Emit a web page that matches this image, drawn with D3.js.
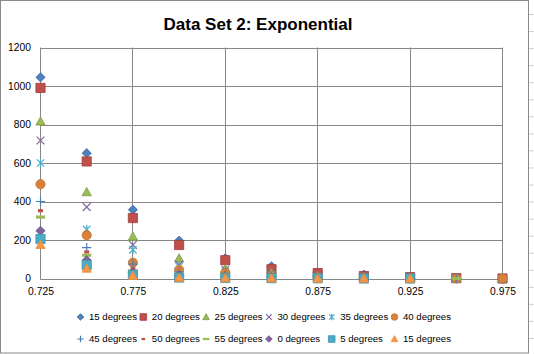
<!DOCTYPE html>
<html>
<head>
<meta charset="utf-8">
<script src="https://cdn.jsdelivr.net/npm/d3@7"></script>
<style>
  html, body { margin: 0; padding: 0; background: #fff; }
  svg { display: block; font-family: "Liberation Sans", Arial, sans-serif; }
</style>
</head>
<body>
<svg id="chart" width="534" height="354"></svg>
<script>
const TITLE = "Data Set 2: Exponential";
const X_VALUES = [0.725, 0.75, 0.775, 0.8, 0.825, 0.85, 0.875, 0.9, 0.925, 0.95, 0.975];
const X_TICKS = [0.725, 0.775, 0.825, 0.875, 0.925, 0.975];
const Y_TICKS = [0, 200, 400, 600, 800, 1000, 1200];
const SERIES_NAMES = ["15 degrees", "20 degrees", "25 degrees", "30 degrees", "35 degrees", "40 degrees",
                      "45 degrees", "50 degrees", "55 degrees", "0 degrees", "5 degrees", "15 degrees"];
const SERIES_VALUES = [
    [1045, 651, 357, 197, 105, 63, 32, 20, 8, 2, 0],
    [990, 608, 314, 174, 95, 48, 28, 13, 7, 2, 0],
    [816, 449, 218, 105, 50, 30, 15, 8, 4, 1, 0],
    [717, 371, 175, 72, 45, 22, 10, 5, 2, 1, 0],
    [600, 255, 149, 62, 35, 18, 8, 4, 2, 1, 0],
    [490, 225, 82, 45, 30, 14, 7, 3, 1, 0, 0],
    [400, 160, 75, 35, 20, 10, 5, 2, 1, 0],
    [352, 138, 50, 28, 15, 8, 4, 2, 1, 0],
    [319, 121, 40, 22, 12, 6, 3, 1, 0, 0],
    [248, 95, 30, 15, 8, 4, 2, 1, 0],
    [205, 70, 19, 5, 3, 2, 1, 0, 0],
    [175, 52, 14, 4, 2, 1, 0, 0, 0]
];

// excel style marker per series: shape, fill, stroke
const MARKERS = [
    {"shape": "diamond", "fill": "#4F81BD", "stroke": "#3F6A9E"},
    {"shape": "square", "fill": "#C0504D", "stroke": "#9E3E3B"},
    {"shape": "triangle", "fill": "#9BBB59", "stroke": "#7E9B45"},
    {"shape": "x", "fill": "none", "stroke": "#8064A2"},
    {"shape": "star", "fill": "none", "stroke": "#4BACC6"},
    {"shape": "circle", "fill": "#D9813A", "stroke": "#C4722F"},
    {"shape": "plus", "fill": "none", "stroke": "#4A7EBB"},
    {"shape": "dash", "fill": "#C0504D", "stroke": "none"},
    {"shape": "longdash", "fill": "#9BBB59", "stroke": "none"},
    {"shape": "diamond", "fill": "#8064A2", "stroke": "#6A5289"},
    {"shape": "square", "fill": "#4BACC6", "stroke": "#3E93AA"},
    {"shape": "triangle", "fill": "#F79646", "stroke": "#F08A38"}
];

var svg = d3.select("svg#chart");
const W = 534, H = 354;
const plot = {"left": 40.5, "right": 502.5, "top": 47.5, "bottom": 278.5};

var x = d3.scaleLinear().domain([0.725, 0.975]).range([plot.left, plot.right]);
var y = d3.scaleLinear().domain([0, 1200]).range([plot.bottom, plot.top]);

function markerPath(shape, s) {
    // s = half size
    switch (shape) {
        case "diamond": return `M0,${-s}L${s},0L0,${s}L${-s},0Z`;
        case "square": return `M${-s},${-s}H${s}V${s}H${-s}Z`;
        case "triangle": return `M0,${-s}L${s},${s * 0.8}L${-s},${s * 0.8}Z`;
        case "x": return `M${-s * 0.85},${-s * 0.85}L${s * 0.85},${s * 0.85}M${-s * 0.85},${s * 0.85}L${s * 0.85},${-s * 0.85}`;
        case "star": return `M${-s * 0.8},${-s * 0.8}L${s * 0.8},${s * 0.8}M${-s * 0.8},${s * 0.8}L${s * 0.8},${-s * 0.8}M0,${-s}V${s}`;
        case "circle": return d3.arc()({"innerRadius": 0, "outerRadius": s, "startAngle": 0, "endAngle": 2 * Math.PI});
        case "plus": return `M${-s},0H${s}M0,${-s}V${s}`;
        case "dash": return `M${-s * 0.55},${-s * 0.35}H${s * 0.55}V${s * 0.35}H${-s * 0.55}Z`;
        case "longdash": return `M${-s},${-s * 0.35}H${s}V${s * 0.35}H${-s}Z`;
    }
}

function drawMarker(g, m, s) {
    g.append("path")
        .attr("d", markerPath(m.shape, s))
        .attr("fill", m.fill)
        .attr("stroke", m.stroke)
        .attr("stroke-width", (m.fill == "none") ? 1.2 : 0.8);
}

// chart area + the sheet gridlines peeking in on the right
svg.append("rect")
    .attr("x", 0).attr("y", 0).attr("width", W).attr("height", H)
    .attr("fill", "#fff");
svg.append("g")
    .selectAll("line")
    .data(d3.range(14.5, H, 17.05))
    .join("line")
    .attr("x1", 529).attr("x2", W)
    .attr("y1", d => d).attr("y2", d => d)
    .attr("stroke", "#d0d0d0");
svg.append("rect")
    .attr("x", 0.5).attr("y", 0.5).attr("width", 528).attr("height", 352.5)
    .attr("fill", "#fff")
    .attr("stroke", "#8a8a8a");

// gridlines
var grid = svg.append("g").attr("stroke", "#878787").attr("stroke-width", 1);
grid.selectAll(".hgrid")
    .data(Y_TICKS)
    .join("line")
    .attr("class", "hgrid")
    .attr("x1", plot.left).attr("x2", plot.right)
    .attr("y1", d => Math.round(y(d)) + 0.5).attr("y2", d => Math.round(y(d)) + 0.5);
grid.selectAll(".vgrid")
    .data(X_TICKS)
    .join("line")
    .attr("class", "vgrid")
    .attr("x1", d => Math.round(x(d) - 0.5) + 0.5).attr("x2", d => Math.round(x(d) - 0.5) + 0.5)
    .attr("y1", plot.top).attr("y2", Math.round(y(0)) + 0.5);

// axes labels
var yAxis = svg.append("g")
    .attr("transform", "translate(" + (plot.left - 9.5) + ",0)")
    .call(d3.axisLeft(y).tickValues(Y_TICKS).tickSize(0).tickPadding(0).tickFormat(d3.format("d")));
yAxis.select(".domain").remove();
yAxis.selectAll("text").attr("font-size", 10.3).attr("fill", "#000").attr("font-family", "Liberation Sans, Arial, sans-serif");

var xAxis = svg.append("g")
    .attr("transform", "translate(0," + (y(0) + 9) + ")")
    .call(d3.axisBottom(x).tickValues(X_TICKS).tickSize(0).tickPadding(0).tickFormat(d3.format(".3f")));
xAxis.select(".domain").remove();
xAxis.selectAll("text").attr("font-size", 10.3).attr("fill", "#000").attr("font-family", "Liberation Sans, Arial, sans-serif");

// points, later series drawn on top
var pts = svg.append("g");
SERIES_VALUES.forEach(function(vals, i) {
    var sg = pts.append("g").attr("class", "series");
    vals.forEach(function(v, j) {
        var g = sg.append("g").attr("transform", "translate(" + x(X_VALUES[j]) + "," + y(v) + ")");
        drawMarker(g, MARKERS[i], 4.6);
    });
});

// title
svg.append("text")
    .attr("x", 258)
    .attr("y", 29.5)
    .attr("text-anchor", "middle")
    .attr("font-size", 17)
    .attr("font-weight", "bold")
    .attr("fill", "#000")
    .text(TITLE);

// legend, 6 per row
const COL_STEP = 62.8;
var legend = svg.append("g");
SERIES_NAMES.forEach(function(name, i) {
    var col = i % 6, row = Math.floor(i / 6);
    var tx = 89 + col * COL_STEP;
    var ty = 317 + row * 22;
    var item = legend.append("g");
    var mg = item.append("g").attr("transform", "translate(" + (tx - 8.5) + "," + ty + ")");
    drawMarker(mg, MARKERS[i], 3.3);
    item.append("text")
        .attr("x", tx)
        .attr("y", ty)
        .attr("dy", "0.35em")
        .attr("font-size", 9.6)
        .attr("fill", "#000")
        .text(name);
});
</script>
</body>
</html>
